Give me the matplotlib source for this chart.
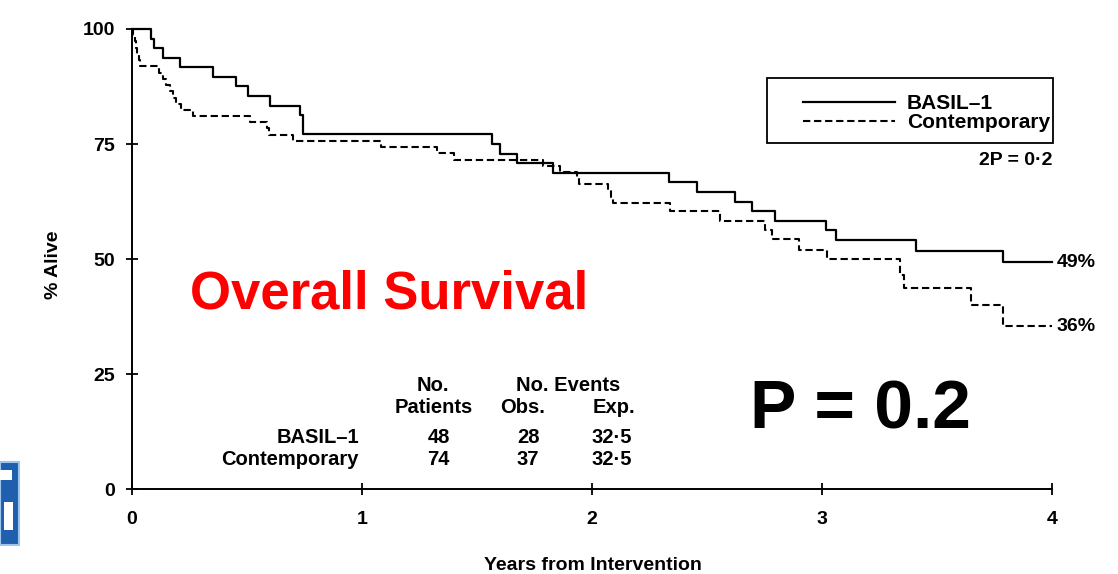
import matplotlib
matplotlib.use("Agg")
import matplotlib.pyplot as plt
from matplotlib.patches import Rectangle

plt.rcParams["font.family"] = ["Liberation Sans", "DejaVu Sans"]
plt.rcParams["font.weight"] = "bold"

# ── Data ─────────────────────────────────────────────────────────────────────
basil_t = [0, 0.081, 0.097, 0.136, 0.209, 0.354, 0.451, 0.503, 0.600, 0.730,
           0.742, 1.564, 1.600, 1.672, 1.832, 2.335, 2.458, 2.622, 2.694,
           2.796, 3.016, 3.060, 3.409, 3.786, 4.0]
basil_s = [100, 97.9, 95.8, 93.8, 91.7, 89.6, 87.5, 85.4, 83.3, 81.2,
           77.1, 75.0, 72.9, 70.8, 68.8, 66.7, 64.6, 62.5, 60.4,
           58.3, 56.3, 54.1, 51.7, 49.3, 49.3]

contemp_t = [0, 0.006, 0.012, 0.018, 0.024, 0.030, 0.036, 0.119, 0.135, 0.150,
             0.165, 0.178, 0.190, 0.215, 0.267, 0.513, 0.586, 0.598, 0.699,
             1.083, 1.325, 1.400, 1.788, 1.861, 1.933, 1.945, 2.071, 2.083,
             2.093, 2.339, 2.557, 2.752, 2.781, 2.901, 3.020, 3.339, 3.357,
             3.647, 3.786, 4.0]
contemp_s = [100, 98.6, 97.3, 95.9, 94.6, 93.2, 91.9, 90.5, 89.2, 87.8,
             86.5, 85.1, 83.8, 82.4, 81.1, 79.7, 78.4, 77.0, 75.7,
             74.3, 73.0, 71.6, 70.3, 68.9, 67.6, 66.2, 64.9, 63.5,
             62.2, 60.5, 58.3, 56.3, 54.3, 52.0, 49.9, 46.5, 43.6,
             40.0, 35.4, 35.4]

groups = ["BASIL\u20131", "Contemporary"]
n_patients = [48, 74]
obs_events = [28, 37]
exp_events = ["32\u00b75", "32\u00b75"]
final_pct = ["49%", "36%"]

x_ticks = [0, 1, 2, 3, 4]
y_ticks = [0, 25, 50, 75, 100]

# ── Figure ───────────────────────────────────────────────────────────────────
fig = plt.figure(figsize=(11.18, 5.74), dpi=100, facecolor="white")
ax = fig.add_axes([0.118, 0.148, 0.823, 0.8015])

ax.plot(basil_t, basil_s, drawstyle="steps-post", color="black", lw=1.6,
        clip_on=False, label=groups[0])
ax.plot(contemp_t, contemp_s, drawstyle="steps-post", color="black", lw=1.5,
        dashes=(3.5, 1.8), clip_on=False, label=groups[1])

ax.set_xlim(0, 4)
ax.set_ylim(0, 100)
ax.set_xticks(x_ticks)
ax.set_yticks(y_ticks)
for s in ["top", "right"]:
    ax.spines[s].set_visible(False)
for s in ["left", "bottom"]:
    ax.spines[s].set_linewidth(1.4)
ax.tick_params(axis="both", direction="inout", length=8, width=1.3,
               labelsize=14)
ax.tick_params(axis="x", pad=12)
ax.tick_params(axis="y", pad=8)

fig.text(53 / 1118, 1 - 265 / 574, "% Alive", rotation=90, ha="center",
         va="center", fontsize=14, fontweight="bold")
fig.text(593 / 1118, 1 - 565 / 574, "Years from Intervention", ha="center",
         va="center", fontsize=14, fontweight="bold")

# legend: frameless legend inside a hand-placed box
leg = ax.legend(loc="upper left", bbox_to_anchor=(0.729, 0.858), fontsize=15,
                handlelength=4.45, handletextpad=0.55, labelspacing=0.0,
                borderpad=0, borderaxespad=0, frameon=False)
ax.add_patch(Rectangle((0.690, 0.752), 0.311, 0.142, transform=ax.transAxes,
                       facecolor="none", edgecolor="black", lw=1.3,
                       clip_on=False))
ax.text(4.0, 71.5, "2P = 0\u00b72", ha="right", va="center", fontsize=14)

# end labels
ax.text(4.02, basil_s[-1], final_pct[0], ha="left", va="center", fontsize=14,
        clip_on=False)
ax.text(4.02, contemp_s[-1], final_pct[1], ha="left", va="center", fontsize=14,
        clip_on=False)

# big annotations
ax.text(1.117, 42.2, "Overall Survival", color="#ff0000", fontsize=38,
        fontweight="bold", ha="center", va="center")
ax.text(3.165, 17.0, "P = 0.2", color="black", fontsize=50,
        fontweight="bold", ha="center", va="center")

# summary table
fs = 14.5
ax.text(1.31, 22.4, "No.", ha="center", va="center", fontsize=fs)
ax.text(1.31, 17.8, "Patients", ha="center", va="center", fontsize=fs)
ax.text(1.895, 22.4, "No. Events", ha="center", va="center", fontsize=fs)
ax.text(1.70, 17.8, "Obs.", ha="center", va="center", fontsize=fs)
ax.text(2.19, 17.8, "Exp.", ha="right", va="center", fontsize=fs)
row_y = [11.3, 6.5]
for i, g in enumerate(groups):
    ax.text(0.987, row_y[i], g, ha="right", va="center", fontsize=fs)
    ax.text(1.334, row_y[i], str(n_patients[i]), ha="center", va="center",
            fontsize=fs)
    ax.text(1.722, row_y[i], str(obs_events[i]), ha="center", va="center",
            fontsize=fs)
    ax.text(2.175, row_y[i], exp_events[i], ha="right", va="center",
            fontsize=fs)

# cropped logo at the left edge (blue tile with white glyph pieces)
W, H = 1118, 574
fig.patches.append(Rectangle((0, 1 - 545 / H), 19 / W, 83 / H,
                             transform=fig.transFigure, facecolor="#1f5fae",
                             edgecolor="#9cc6ee", lw=1.5))
fig.patches.append(Rectangle((0, 1 - 480 / H), 12 / W, 10 / H,
                             transform=fig.transFigure, facecolor="white",
                             edgecolor="none"))
fig.patches.append(Rectangle((4 / W, 1 - 530 / H), 9 / W, 28 / H,
                             transform=fig.transFigure, facecolor="white",
                             edgecolor="none"))

fig.savefig("out.png", dpi=100, facecolor="white")
